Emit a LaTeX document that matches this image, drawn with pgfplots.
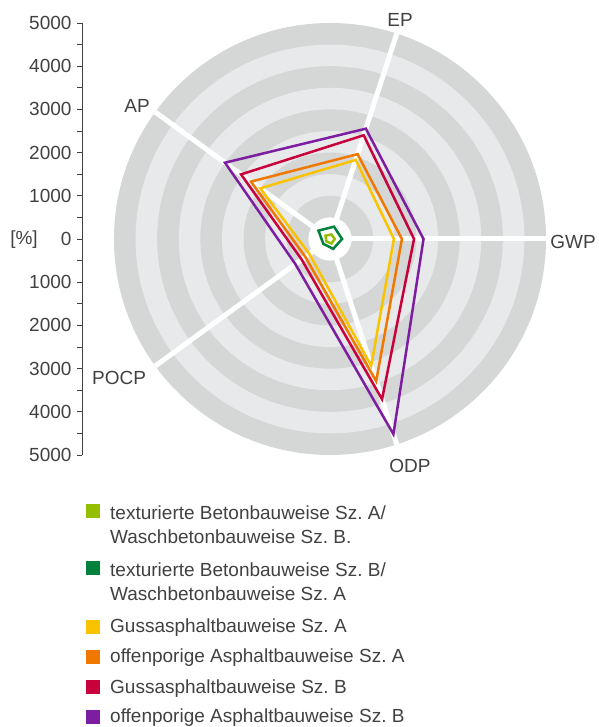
\documentclass[border=0pt]{standalone}
\usepackage{fontspec}
\setmainfont{Liberation Sans}
\usepackage{pgfplots}
\pgfplotsset{compat=1.18}
\definecolor{ringD}{RGB}{213,214,214}
\definecolor{ringL}{RGB}{232,233,234}
\definecolor{txt}{RGB}{65,65,65}
\definecolor{cLG}{RGB}{150,190,0}
\definecolor{cDG}{RGB}{0,130,60}
\definecolor{cYe}{RGB}{250,195,0}
\definecolor{cOr}{RGB}{240,120,0}
\definecolor{cRe}{RGB}{200,0,60}
\definecolor{cPu}{RGB}{125,30,160}
\newcommand{\fs}{\fontsize{19}{24}\selectfont\frenchspacing}
\begin{document}
\frenchspacing
\begin{tikzpicture}[x=1pt,y=1pt]
\useasboundingbox (0,0) rectangle (598,727);
\begin{axis}[
  at={(82pt,272pt)}, anchor=south west,
  scale only axis, width=464pt, height=432pt,
  xmin=-5740, xmax=5000, ymin=-5000, ymax=5000,
  clip=false,
  axis x line=none, axis y line=left,
  y axis line style={-, line width=0.8pt, draw=txt},
  ytick={-5000,-4000,...,5000},
  yticklabels={5000,4000,3000,2000,1000,0,1000,2000,3000,4000,5000},
  minor ytick={-4500,-3500,...,4500},
  tick align=outside,
  major tick length=5pt, minor tick length=5pt,
  every tick/.style={draw=txt, line width=0.8pt},
  yticklabel style={font=\fs, text=txt, anchor=east, xshift=-2pt},
  mark=none,
]
% background rings
\fill[ringD] (axis cs:0,0) circle[radius=5000];
\fill[ringL] (axis cs:0,0) circle[radius=4500];
\fill[ringD] (axis cs:0,0) circle[radius=4000];
\fill[ringL] (axis cs:0,0) circle[radius=3500];
\fill[ringD] (axis cs:0,0) circle[radius=3000];
\fill[ringL] (axis cs:0,0) circle[radius=2500];
\fill[ringD] (axis cs:0,0) circle[radius=2000];
\fill[ringL] (axis cs:0,0) circle[radius=1500];
\fill[ringD] (axis cs:0,0) circle[radius=1000];
\fill[white] (axis cs:0,0) circle[radius=500];
% spokes
\addplot[white, line width=5pt, data cs=polar] coordinates {(0,0) (0,5000)};
\addplot[white, line width=5pt, data cs=polar] coordinates {(72,0) (72,5000)};
\addplot[white, line width=5pt, data cs=polar] coordinates {(144,0) (144,5000)};
\addplot[white, line width=5pt, data cs=polar] coordinates {(216,0) (216,5000)};
\addplot[white, line width=5pt, data cs=polar] coordinates {(288,0) (288,5000)};
% data: angle = GWP 0, EP 72, AP 144, POCP 216, ODP 288
\addplot[cLG, line width=2.5pt, line join=miter, data cs=polar] coordinates {(0,110) (72,110) (144,130) (216,100) (288,110)} -- cycle;
\addplot[cDG, line width=2.5pt, line join=miter, data cs=polar] coordinates {(0,280) (72,300) (144,330) (216,190) (288,240)} -- cycle;
\addplot[cYe, line width=2.5pt, line join=miter, data cs=polar] coordinates {(0,1480) (72,1925) (144,1995) (216,590) (288,3085)} -- cycle;
\addplot[cOr, line width=2.5pt, line join=miter, data cs=polar] coordinates {(0,1665) (72,2065) (144,2260) (216,705) (288,3460)} -- cycle;
\addplot[cRe, line width=2.5pt, line join=miter, data cs=polar] coordinates {(0,1945) (72,2525) (144,2545) (216,810) (288,3900)} -- cycle;
\addplot[cPu, line width=2.5pt, line join=miter, data cs=polar] coordinates {(0,2165) (72,2685) (144,3005) (216,990) (288,4750)} -- cycle;
\end{axis}
% axis labels
\begin{scope}[every node/.style={font=\fs, text=txt, inner sep=0pt}]
\node at (400,707) {EP};
\node at (137,621) {AP};
\node at (573,485) {GWP};
\node at (119,349) {POCP};
\node at (410,261) {ODP};
\node at (24,487) {[\%]};
% legend
\fill[cLG] (86,208.5) rectangle (100,222.5);
\node[anchor=west] at (110,214.3) {texturierte Betonbauweise Sz. A/};
\node[anchor=west] at (110,190.3) {Waschbetonbauweise Sz. B.};
\fill[cDG] (86,152) rectangle (100,166);
\node[anchor=west] at (110,157.7) {texturierte Betonbauweise Sz. B/};
\node[anchor=west] at (110,133.3) {Waschbetonbauweise Sz. A};
\fill[cYe] (86,93) rectangle (100,107);
\node[anchor=west] at (110,99.3) {Gussasphaltbauweise Sz. A};
\fill[cOr] (86,63) rectangle (100,77);
\node[anchor=west] at (110,69.3) {offenporige Asphaltbauweise Sz. A};
\fill[cRe] (86,32.5) rectangle (100,46.5);
\node[anchor=west] at (110,38.8) {Gussasphaltbauweise Sz. B};
\fill[cPu] (86,3) rectangle (100,17);
\node[anchor=west] at (110,9.3) {offenporige Asphaltbauweise Sz. B};
\end{scope}
\end{tikzpicture}
\end{document}
